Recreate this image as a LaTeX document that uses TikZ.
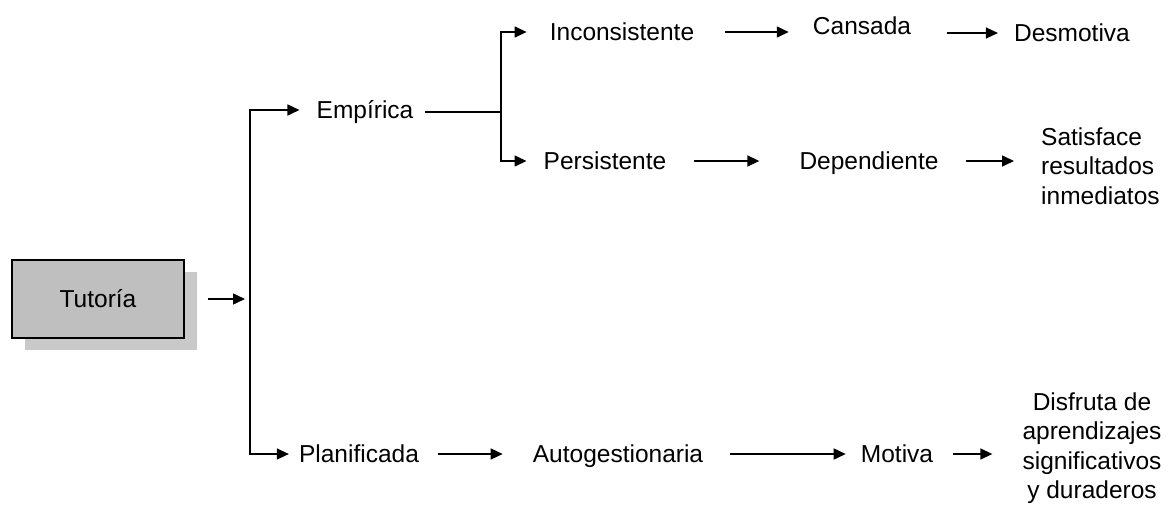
\documentclass[tikz,border=0pt]{standalone}
\usepackage{fontspec}
\setmainfont{Liberation Sans}
\usepackage{tikz}
\usetikzlibrary{arrows.meta}
\usetikzlibrary{shadows}
\newcommand*{\diagfont}{\fontsize{24.5}{29.5}\selectfont}
\tikzstyle{textnode}=[black, font=\diagfont, inner sep=0pt, text height=17.6pt, text depth=0pt]
\tikzstyle{multinode}=[black, font=\diagfont, inner sep=0pt]
\tikzstyle{boxnode}=[black, draw=black, line width=1.2pt, shape=rectangle, fill=black!25, minimum width=172pt, minimum height=78pt, font=\diagfont, drop shadow={shadow xshift=13pt, shadow yshift=-12pt, fill=black!21, opacity=1}]
\tikzstyle{flowarrow}=[-{Triangle[length=12pt, width=11pt]}, line width=1.5pt, color=black]
\tikzstyle{flowline}=[line width=1.5pt, color=black]

\begin{document}
\begin{tikzpicture}[x=1pt, y=-1pt]
\useasboundingbox (0,0) rectangle (1170,509);

\node [boxnode] (tutoria) at (98,299) {Tutoría};
\coordinate (split) at (250,299);
\coordinate (fork) at (501,112);

\node [textnode] (empirica) at (365,110) {Empírica};
\node [textnode] (planificada) at (359,454) {Planificada};
\node [textnode] (inconsistente) at (622,32) {Inconsistente};
\node [textnode] (cansada) at (862,26) {Cansada};
\node [textnode] (desmotiva) at (1072,33) {Desmotiva};
\node [textnode] (persistente) at (605,161) {Persistente};
\node [textnode] (dependiente) at (869,161) {Dependiente};
\node [multinode, align=left, anchor=west] (satisface) at (1041,166) {Satisface\\resultados\\inmediatos};
\node [textnode] (autogestion) at (618,454) {Autogestionaria};
\node [textnode] (motiva) at (897,454) {Motiva};
\node [multinode, align=center] (disfruta) at (1092,448) {Disfruta de\\aprendizajes\\significativos\\y duraderos};

\draw[flowarrow, shorten <=23pt, shorten >=5pt] (tutoria) -- (split);
\draw[flowarrow, shorten >=17pt] (split) |- (empirica);
\draw[flowarrow, shorten >=10pt] (split) |- (planificada);
\draw[flowline, shorten <=11pt] (empirica.east |- fork) -- (fork);
\draw[flowarrow, shorten >=23pt] (fork) |- (inconsistente);
\draw[flowarrow, shorten >=17pt] (fork) |- (persistente);
\draw[flowarrow, shorten <=31pt, shorten >=24pt] (inconsistente) -- (inconsistente -| cansada.west);
\draw[flowarrow, shorten <=36pt, shorten >=16pt] (cansada.east |- desmotiva) -- (desmotiva);
\draw[flowarrow, shorten <=28pt, shorten >=40pt] (persistente) -- (dependiente);
\draw[flowarrow, shorten <=27pt, shorten >=27pt] (dependiente) -- (dependiente -| satisface.west);
\draw[flowarrow, shorten <=19pt, shorten >=30pt] (planificada) -- (autogestion);
\draw[flowarrow, shorten <=27pt, shorten >=15pt] (autogestion) -- (motiva);
\draw[flowarrow, shorten <=20pt, shorten >=30pt] (motiva) -- (motiva -| disfruta.west);
\end{tikzpicture}
\end{document}
